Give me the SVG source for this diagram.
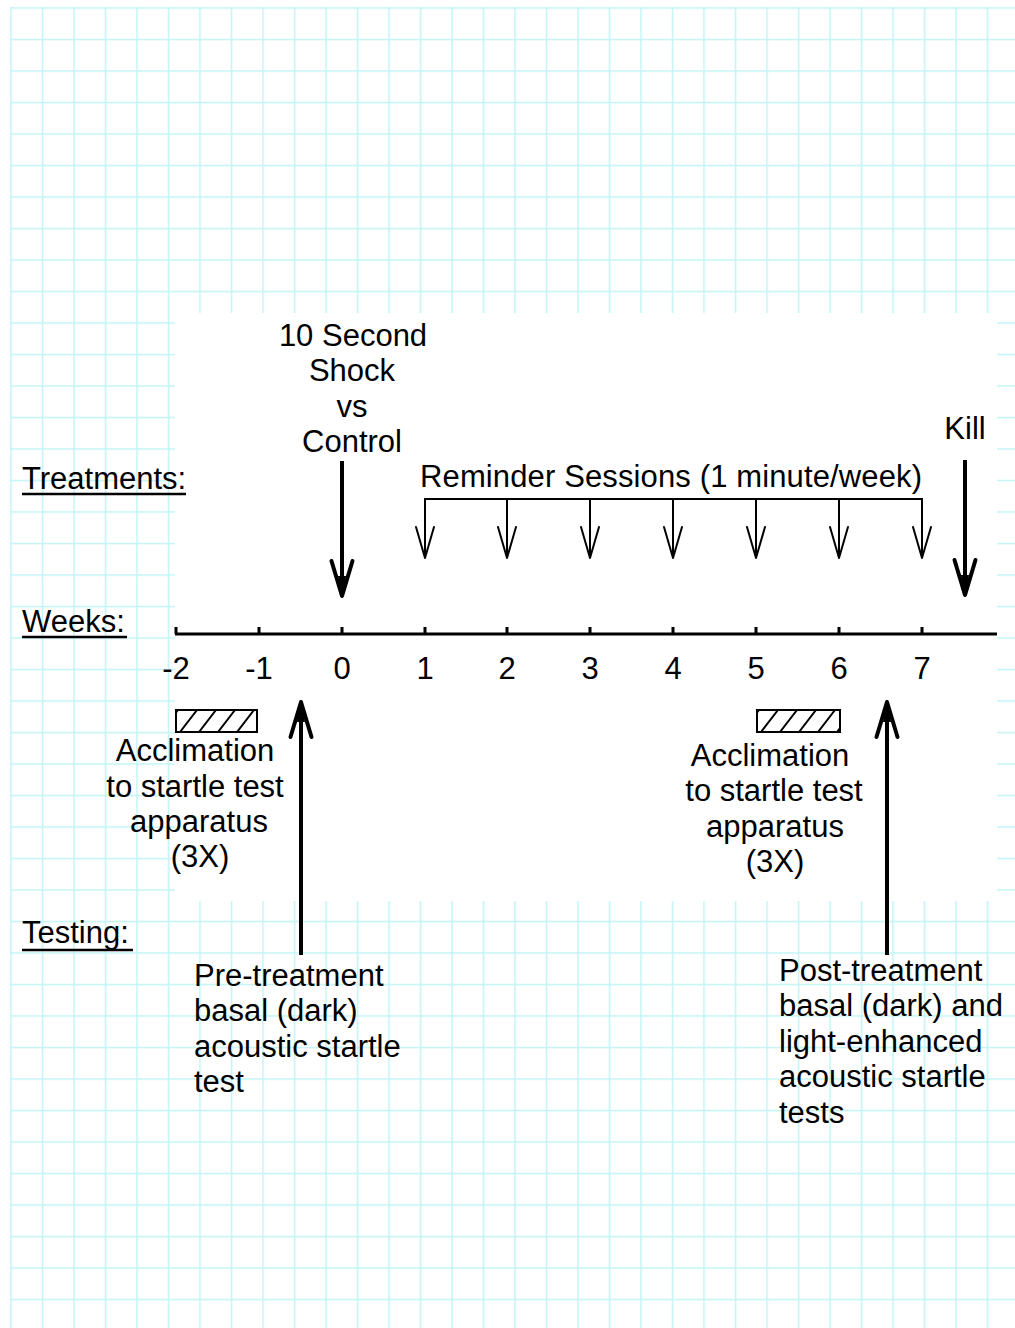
<svg xmlns="http://www.w3.org/2000/svg" width="1015" height="1328" viewBox="0 0 1015 1328">
  <style>
    text { font-family: "Liberation Sans", Arial, sans-serif; font-size: 31px; fill: #000; }
    .c { text-anchor: middle; }
    .ul { stroke: #000; stroke-width: 2.5; }
    .axis { stroke: #000; stroke-width: 3; fill: none; }
    .thin { stroke: #000; stroke-width: 2; fill: none; }
    .thick { stroke: #000; stroke-width: 4; fill: none; }
    .hatchbox { fill: none; stroke: #000; stroke-width: 2; }
    .hatch { stroke: #000; stroke-width: 2; }
  </style>
  <defs>
    <pattern id="grid" patternUnits="userSpaceOnUse" x="10.25" y="7.25" width="31.5" height="31.5">
      <path d="M0.75 0 V31.5 M0 0.75 H31.5" stroke="#c2f4f6" stroke-width="1.5" fill="none"/>
    </pattern>
    <marker id="vthin" markerUnits="userSpaceOnUse" viewBox="-40 -20 50 40" refX="0" refY="0" markerWidth="50" markerHeight="40" orient="auto" overflow="visible">
      <path d="M-31,-9 L0,0 L-31,9" fill="none" stroke="#000" stroke-width="2" stroke-linejoin="round" stroke-linecap="round"/>
    </marker>
    <marker id="vthick" markerUnits="userSpaceOnUse" viewBox="-45 -20 55 40" refX="0" refY="0" markerWidth="55" markerHeight="40" orient="auto" overflow="visible">
      <path d="M-35,-10.5 L0,0 L-35,10.5" fill="none" stroke="#000" stroke-width="4" stroke-linejoin="round" stroke-linecap="round"/>
      <path d="M0,0 L-20,-4 L-20,4 Z" fill="#000"/>
    </marker>
    <clipPath id="clipL"><rect x="176" y="710" width="81" height="22"/></clipPath>
    <clipPath id="clipR"><rect x="757" y="710" width="83" height="22"/></clipPath>
  </defs>

  <g id="background">
    <rect x="0" y="0" width="1015" height="1328" fill="#fff"/>
    <rect x="10" y="7" width="1005" height="1321" fill="url(#grid)"/>
    <rect x="175" y="313" width="822" height="588" fill="#fff"/>
  </g>

  <g id="connectors">
    <path class="axis" d="M175,634 H997"/>
    <path class="axis" d="M176,627 V634 M259,627 V634 M342,627 V634 M425,627 V634 M507,627 V634 M590,627 V634 M673,627 V634 M756,627 V634 M839,627 V634 M922,627 V634"/>
    <path class="thin" d="M425,557 V499 H922 V557"/>
    <path class="thin" marker-end="url(#vthin)" d="M425,499 V558"/>
    <path class="thin" marker-end="url(#vthin)" d="M507,499 V558"/>
    <path class="thin" marker-end="url(#vthin)" d="M590,499 V558"/>
    <path class="thin" marker-end="url(#vthin)" d="M673,499 V558"/>
    <path class="thin" marker-end="url(#vthin)" d="M756,499 V558"/>
    <path class="thin" marker-end="url(#vthin)" d="M839,499 V558"/>
    <path class="thin" marker-end="url(#vthin)" d="M922,499 V558"/>
    <path class="thick" marker-end="url(#vthick)" d="M342,461 V596"/>
    <path class="thick" marker-end="url(#vthick)" d="M965,460 V595"/>
    <path class="thick" marker-end="url(#vthick)" d="M301,955 V702"/>
    <path class="thick" marker-end="url(#vthick)" d="M887,955 V702"/>
  </g>

  <g id="label-treatments">
    <text x="22" y="489">Treatments:</text>
    <line class="ul" x1="22" y1="494" x2="186" y2="494"/>
  </g>
  <g id="label-weeks">
    <text x="22" y="632">Weeks:</text>
    <line class="ul" x1="22" y1="637" x2="127" y2="637"/>
  </g>
  <g id="label-testing">
    <text x="22" y="943">Testing:</text>
    <line class="ul" x1="22" y1="950" x2="133" y2="950"/>
  </g>

  <g id="shock">
    <text class="c" x="353" y="346">10 Second</text>
    <text class="c" x="352" y="381">Shock</text>
    <text class="c" x="352" y="417">vs</text>
    <text class="c" x="352" y="452">Control</text>
  </g>
  <g id="reminder">
    <text x="420" y="487" textLength="502" lengthAdjust="spacing">Reminder Sessions (1 minute/week)</text>
  </g>
  <g id="kill">
    <text class="c" x="965" y="439">Kill</text>
  </g>

  <g id="week-labels">
    <text class="c" x="176" y="679">-2</text>
    <text class="c" x="259" y="679">-1</text>
    <text class="c" x="342" y="679">0</text>
    <text class="c" x="425" y="679">1</text>
    <text class="c" x="507" y="679">2</text>
    <text class="c" x="590" y="679">3</text>
    <text class="c" x="673" y="679">4</text>
    <text class="c" x="756" y="679">5</text>
    <text class="c" x="839" y="679">6</text>
    <text class="c" x="922" y="679">7</text>
  </g>

  <g id="acclimation-1">
    <rect class="hatchbox" x="176" y="710" width="81" height="22"/>
    <g clip-path="url(#clipL)">
      <path class="hatch" d="M161,732 L178,710 M180,732 L197,710 M199,732 L216,710 M218,732 L235,710 M237,732 L254,710 M256,732 L273,710"/>
    </g>
    <text class="c" x="195" y="761">Acclimation</text>
    <text class="c" x="195" y="797">to startle test</text>
    <text class="c" x="199" y="832">apparatus</text>
    <text class="c" x="200" y="867">(3X)</text>
  </g>

  <g id="acclimation-2">
    <rect class="hatchbox" x="757" y="710" width="83" height="22"/>
    <g clip-path="url(#clipR)">
      <path class="hatch" d="M742,732 L759,710 M761,732 L778,710 M780,732 L797,710 M799,732 L816,710 M818,732 L835,710 M837,732 L854,710"/>
    </g>
    <text class="c" x="770" y="766">Acclimation</text>
    <text class="c" x="774" y="801">to startle test</text>
    <text class="c" x="775" y="837">apparatus</text>
    <text class="c" x="775" y="872">(3X)</text>
  </g>

  <g id="pre-treatment">
    <text x="194" y="986">Pre-treatment</text>
    <text x="194" y="1021">basal (dark)</text>
    <text x="194" y="1057">acoustic startle</text>
    <text x="194" y="1092">test</text>
  </g>

  <g id="post-treatment">
    <text x="779" y="981">Post-treatment</text>
    <text x="779" y="1016">basal (dark) and</text>
    <text x="779" y="1052">light-enhanced</text>
    <text x="779" y="1087">acoustic startle</text>
    <text x="779" y="1123">tests</text>
  </g>
</svg>
